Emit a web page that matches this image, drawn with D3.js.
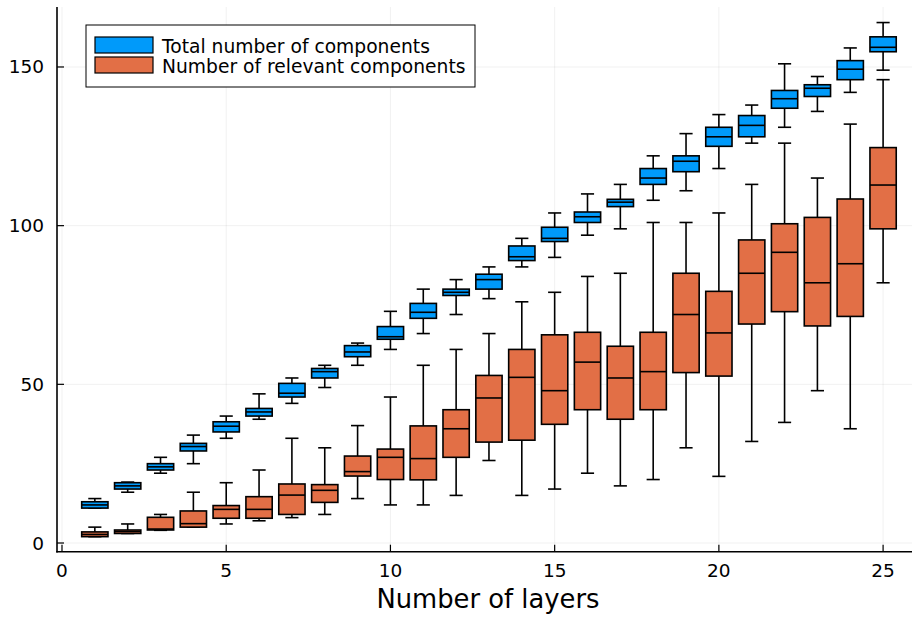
<!DOCTYPE html>
<html>
<head>
<meta charset="utf-8">
<script src="https://cdn.jsdelivr.net/npm/d3@7"></script>
<style>
	body { margin: 0; background: #ffffff; }
	svg text { font-family: 'DejaVu Sans', sans-serif; fill: #000000; }
</style>
</head>
<body>
<div id="chart"></div>
<script>

// layers on the x axis
var layers = [1, 2, 3, 4, 5, 6, 7, 8, 9, 10, 11, 12, 13, 14, 15, 16, 17, 18, 19, 20, 21, 22, 23, 24, 25];

// each box: [lower whisker, q1, median, q3, upper whisker]
var totalBoxes = [
	[11, 11, 12, 13, 14], [16, 17, 18, 19, 19.2], [22, 23, 24, 25, 27], [25, 29, 30.4, 31.4, 34],
	[33, 35, 36.8, 38.2, 40], [39, 40, 41.3, 42.4, 47], [44, 46, 47.2, 50.3, 52], [49, 52, 54, 55, 56],
	[56, 58.7, 60.2, 62.2, 63], [61, 64.2, 65, 68.2, 73], [66, 70.8, 72.7, 75.5, 80], [72, 78, 79, 80, 83],
	[77, 80, 83, 84.7, 87], [87, 89, 90.2, 93.6, 96], [90, 95, 96, 99.5, 104], [97, 101, 102.8, 104.3, 110],
	[99, 106, 107.4, 108.3, 113], [108, 113, 115, 118, 122], [111, 117, 120.3, 122, 129], [118, 125, 128, 131, 135],
	[126, 128, 131.6, 134.7, 138], [131, 137, 140, 142.6, 151], [136, 140.7, 143.3, 144.4, 147], [142, 146, 149.3, 152, 156],
	[149, 154.8, 156.2, 159.5, 164]
];

var relevantBoxes = [
	[2, 2, 2.7, 3.5, 5], [3, 3, 3.6, 4.1, 6], [4, 4.1, 4.4, 8.1, 9], [5, 5, 6.1, 10.1, 16],
	[6, 7.8, 10.6, 11.8, 19], [7, 7.8, 10.6, 14.6, 23], [8, 9, 15.1, 18.6, 33], [9, 12.8, 16.6, 18.4, 30],
	[14, 21.1, 22.5, 27.4, 37], [12, 20, 27, 29.6, 46], [12, 19.9, 26.6, 36.9, 56], [15, 27, 36, 42, 61],
	[26, 31.8, 45.7, 52.8, 66], [15, 32.4, 52.2, 61, 76], [17, 37.4, 48, 65.6, 79], [22, 42, 57, 66.4, 84],
	[18, 39, 52, 62, 85], [20, 42, 54, 66.4, 101], [30, 53.7, 72, 85, 101], [21, 52.6, 66.2, 79.3, 104],
	[32, 69, 85, 95.5, 113], [38, 72.9, 91.6, 100.6, 126], [48, 68.4, 82, 102.6, 115], [36, 71.4, 88, 108.4, 132],
	[82, 99, 112.8, 124.6, 146]
];

var seriesNames = ['Total number of components', 'Number of relevant components'];
var seriesColors = ['#009afa', '#e26f46'];

var xTicks = [0, 5, 10, 15, 20, 25];
var yTicks = [0, 50, 100, 150];
var xTitle = 'Number of layers';


var width = 913, height = 622;
var plotLeft = 57, plotRight = 912, plotTop = 7, plotBottom = 551.7;
var boxWidth = 0.8;

var svg = d3.select('#chart')
			.append('svg')
				.attr('width', width)
				.attr('height', height);

var x = d3.scaleLinear().domain([-0.152, 25.88]).range([plotLeft, plotRight]);
var y = d3.scaleLinear().domain([-2.74, 168.9]).range([plotBottom, plotTop]);


function appendLine(svgInput, lineX1, lineX2, lineY1, lineY2, color, strokeWidth) {

	svgInput.append('line')
			.attr('x1', lineX1)
			.attr('x2', lineX2)
			.attr('y1', lineY1)
			.attr('y2', lineY2)
			.style('stroke', color)
			.style('stroke-width', strokeWidth);
};


function appendRect(svgInput, rectX, rectY, rectWidth, rectHeight, rectStroke, rectStrokeWidth, rectFill) {

	svgInput.append('rect')
			.attr('x', rectX)
			.attr('y', rectY)
			.attr('width', rectWidth)
			.attr('height', rectHeight)
			.style('stroke', rectStroke)
			.style('stroke-width', rectStrokeWidth)
			.style('fill', rectFill);
};


function appendText(svgInput, textX, textY, fontSize, anchor, textInput) {

	svgInput.append('text')
			.attr('x', textX)
			.attr('y', textY)
			.attr('text-anchor', anchor)
			.style('font-size', fontSize)
			.text(textInput);
};


// grid
var grid = svg.append('g');
xTicks.forEach(function(t) { appendLine(grid, x(t), x(t), plotTop, plotBottom, '#000000', 0.6); });
yTicks.forEach(function(t) { appendLine(grid, plotLeft, plotRight, y(t), y(t), '#000000', 0.6); });
grid.selectAll('line').style('stroke-opacity', 0.1);


// boxes
function drawBoxes(boxes, color) {

	var g = svg.append('g');
	var half = (x(boxWidth) - x(0)) / 2;

	boxes.forEach(function(b, i) {
		var cx = x(layers[i]);
		appendLine(g, cx, cx, y(b[4]), y(b[3]), '#000000', 1.6);
		appendLine(g, cx, cx, y(b[1]), y(b[0]), '#000000', 1.6);
		appendLine(g, cx - half / 2, cx + half / 2, y(b[4]), y(b[4]), '#000000', 1.6);
		appendLine(g, cx - half / 2, cx + half / 2, y(b[0]), y(b[0]), '#000000', 1.6);
		appendRect(g, cx - half, y(b[3]), 2 * half, y(b[1]) - y(b[3]), '#000000', 1.6, color);
		appendLine(g, cx - half, cx + half, y(b[2]), y(b[2]), '#000000', 1.6);
	});
};

drawBoxes(totalBoxes, seriesColors[0]);
drawBoxes(relevantBoxes, seriesColors[1]);


// axes
var axes = svg.append('g');
appendLine(axes, plotLeft, plotLeft, plotTop, plotBottom + 0.8, '#000000', 1.6);
appendLine(axes, plotLeft - 0.8, plotRight, plotBottom, plotBottom, '#000000', 1.6);

xTicks.forEach(function(t) {
	appendLine(axes, x(t), x(t), plotBottom, plotBottom - 7, '#000000', 1.2);
	appendText(axes, x(t), 577, '18.5px', 'middle', t);
});

yTicks.forEach(function(t) {
	appendLine(axes, plotLeft, plotLeft + 7, y(t), y(t), '#000000', 1.2);
	appendText(axes, 44, y(t) + 6.5, '18.5px', 'end', t);
});

appendText(axes, 488, 608, '25.8px', 'middle', xTitle);


// legend
var legend = svg.append('g');
appendRect(legend, 86, 25, 389, 62, '#000000', 1, '#ffffff');
seriesNames.forEach(function(name, i) {
	appendRect(legend, 95, 37 + i * 20, 58, 16, '#000000', 1.2, seriesColors[i]);
	appendText(legend, 162, 53 + i * 19.5, '18.7px', 'start', name);
});

</script>
</body>
</html>
